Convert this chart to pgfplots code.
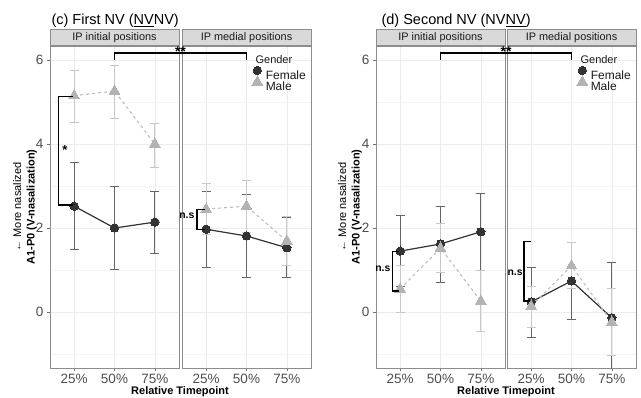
\documentclass[border=0pt]{standalone}
\usepackage{fontspec}
\setmainfont{Liberation Sans}
\usepackage{pgfplots}
\usepackage{pgfplotstable}
\pgfplotsset{compat=1.18}
\usetikzlibrary{calc}

\definecolor{colF}{HTML}{333333}
\definecolor{errF}{HTML}{666666}
\definecolor{colM}{HTML}{B3B3B3}
\definecolor{lineM}{HTML}{BDBDBD}
\definecolor{errM}{HTML}{C8C8C8}
\definecolor{stripfill}{HTML}{D9D9D9}
\definecolor{border}{HTML}{8C8C8C}
\definecolor{gridmaj}{HTML}{EBEBEB}
\definecolor{gridmin}{HTML}{F5F5F5}
\definecolor{ticktext}{HTML}{4D4D4D}

% x: 1=25%, 2=50%, 3=75%
\pgfplotstableread{
x y lo hi
1 2.52 1.50 3.55
2 2.00 1.02 3.00
3 2.14 1.40 2.88
}\cLF
\pgfplotstableread{
x y lo hi
1 5.15 4.52 5.74
2 5.26 4.62 5.88
3 4.00 3.45 4.50
}\cLM
\pgfplotstableread{
x y lo hi
1 1.97 1.07 2.88
2 1.81 0.83 2.79
3 1.53 0.83 2.25
}\cRF
\pgfplotstableread{
x y lo hi
1 2.45 1.85 3.07
2 2.52 1.90 3.14
3 1.69 1.10 2.27
}\cRM
\pgfplotstableread{
x y lo hi
1 1.45 0.62 2.29
2 1.62 0.70 2.52
3 1.91 1.00 2.83
}\dLF
\pgfplotstableread{
x y lo hi
1 0.55 -0.02 1.12
2 1.52 0.93 2.10
3 0.26 -0.46 0.98
}\dLM
\pgfplotstableread{
x y lo hi
1 0.24 -0.60 1.07
2 0.74 -0.18 1.66
3 -0.14 -1.47 1.19
}\dRF
\pgfplotstableread{
x y lo hi
1 0.14 -0.36 0.62
2 1.10 0.55 1.66
3 -0.24 -1.03 0.56
}\dRM

\pgfplotsset{
  facet/.style={
    scale only axis, width=129pt, height=322pt, anchor=south west,
    xmin=0.4, xmax=3.6, ymin=-1.333, ymax=6.333,
    xtick={1,2,3}, xticklabels={25\%,50\%,75\%},
    ytick={0,2,4,6}, minor ytick={-1,1,3,5},
    grid=both,
    major grid style={draw=gridmaj, line width=0.6pt},
    minor grid style={draw=gridmin, line width=0.4pt},
    axis line style={draw=border, line width=0.6pt},
    tick align=outside, major tick length=3pt, minor tick length=0pt,
    tick pos=left,
    tick style={draw=black!55, line width=0.5pt},
    ticklabel style={font=\fontsize{13.5}{14}\selectfont, text=ticktext},
    /pgf/number format/assume math mode=true,
    clip mode=individual,
  },
  rightfacet/.style={yticklabels={}, ytick style={draw=none}},
}

\newcommand{\errplot}[2]{%
  \addplot[forget plot, only marks, mark=none, color=#2,
   error bars/.cd, y dir=both, y explicit, error mark=none,
   error bar style={color=#2, line width=0.9pt, solid}]
   table[x=x, y=y, y error plus expr=\thisrow{hi}-\thisrow{y}, y error minus expr=\thisrow{y}-\thisrow{lo}] {#1};
  \addplot[forget plot, only marks, mark=-, mark size=4.5pt, mark options={draw=#2, line width=0.9pt, solid}] table[x=x, y=lo] {#1};
  \addplot[forget plot, only marks, mark=-, mark size=4.5pt, mark options={draw=#2, line width=0.9pt, solid}] table[x=x, y=hi] {#1};}
\newcommand{\femline}[1]{\addplot[forget plot, draw=colF, solid, line width=1.2pt, mark=none] table[x=x,y=y]{#1};}
\newcommand{\maleline}[1]{\addplot[forget plot, draw=lineM, dash pattern=on 3pt off 3pt, line width=1.1pt, mark=none] table[x=x,y=y]{#1};}
\newcommand{\fempts}[1]{\addplot[forget plot, only marks, mark=*, mark size=4.2pt, mark options={fill=colF, draw=colF, line width=0pt}] table[x=x,y=y]{#1};}
\newcommand{\malepts}[1]{\addplot[forget plot, only marks, mark=triangle*, mark size=6.2pt, mark options={fill=colM, draw=colM, line width=0pt}] table[x=x,y=y]{#1};}
\newcommand{\panel}[2]{\errplot{#1}{errF}\errplot{#2}{errM}\femline{#1}\maleline{#2}\fempts{#1}\malepts{#2}}
\newcommand{\strip}[1]{\node[anchor=south, fill=stripfill, draw=border, line width=0.6pt, minimum width=129pt, minimum height=16pt, inner sep=0pt, font=\fontsize{10.9}{11}\selectfont, text=black!90] at (axis description cs:0.5,1) {#1};}
\newcommand{\gendlegend}{%
  \node[anchor=base west, font=\fontsize{11}{12}\selectfont, text=black!90] at (axis description cs:0.543,0.9457) {Gender};
  \addlegendimage{mark=*, mark size=4.2pt, mark options={fill=colF, draw=colF, line width=0pt}}
  \addlegendentry{Female}
  \addlegendimage{mark=triangle*, mark size=6.2pt, mark options={fill=colM, draw=colM, line width=0pt}}
  \addlegendentry{Male}}
\pgfplotsset{
  genderlegend/.style={
    legend style={at={(axis description cs:0.55,0.924)}, anchor=north west, draw=none, fill=none,
      inner sep=0pt, outer sep=0pt, font=\fontsize{12}{12}\selectfont, text=black!90,
      row sep=2.9pt, nodes={inner sep=0pt, text height=8.6pt, text depth=0pt},
      /tikz/every odd column/.append style={column sep=4pt}},
    legend cell align=left,
    legend image code/.code={\path (0pt,0pt) (8.4pt,0pt); \draw[##1, overlay] plot coordinates {(4.2pt,4.3pt)};},
  }
}

\begin{document}
\begin{tikzpicture}
\useasboundingbox (0,0) rectangle (641pt,397pt);

% ---------------- panel (c) ----------------
\begin{axis}[facet, at={(50pt,29pt)}]
  \panel{\cLF}{\cLM}
  \strip{IP initial positions}
  \draw[black, line width=1.2pt] (axis cs:0.97,5.14) -- (axis cs:0.62,5.14) -- (axis cs:0.62,2.55) -- (axis cs:0.97,2.55);
  \node[anchor=base, font=\bfseries\fontsize{13}{13}\selectfont] at (axis cs:0.77,3.76) {*};
  \coordinate (cLss) at (axis cs:2,6.0);
\end{axis}
\begin{axis}[facet, rightfacet, genderlegend, at={(182pt,29pt)}]
  \panel{\cRF}{\cRM}
  \strip{IP medial positions}
  \draw[black, line width=1.2pt] (axis cs:0.97,2.45) -- (axis cs:0.77,2.45) -- (axis cs:0.77,1.97) -- (axis cs:0.97,1.97);
  \node[anchor=center, font=\bfseries\fontsize{10.4}{11}\selectfont] at (axis cs:0.52,2.28) {n.s};
  \coordinate (cRss) at (axis cs:2,6.0);
  \gendlegend
\end{axis}
\draw[black, line width=1.2pt] (cLss) -- ++(0,7pt) -| (cRss);
\node[anchor=base, font=\bfseries\fontsize{14}{14}\selectfont] at ($($(cLss)!0.5!(cRss)$)+(0,3pt)$) {**};

% ---------------- panel (d) ----------------
\begin{axis}[facet, at={(376pt,29pt)}]
  \panel{\dLF}{\dLM}
  \strip{IP initial positions}
  \draw[black, line width=1.2pt] (axis cs:0.97,1.45) -- (axis cs:0.80,1.45) -- (axis cs:0.80,0.50) -- (axis cs:0.97,0.50);
  \node[anchor=center, font=\bfseries\fontsize{10.4}{11}\selectfont] at (axis cs:0.57,1.02) {n.s};
  \coordinate (dLss) at (axis cs:2,6.0);
\end{axis}
\begin{axis}[facet, rightfacet, genderlegend, at={(507pt,29pt)}]
  \panel{\dRF}{\dRM}
  \strip{IP medial positions}
  \draw[black, line width=1.2pt] (axis cs:1.0,1.67) -- (axis cs:0.82,1.67) -- (axis cs:0.82,0.26) -- (axis cs:0.97,0.26);
  \node[anchor=center, font=\bfseries\fontsize{10.4}{11}\selectfont] at (axis cs:0.60,0.93) {n.s};
  \coordinate (dRss) at (axis cs:2,6.0);
  \gendlegend
\end{axis}
\draw[black, line width=1.2pt] (dLss) -- ++(0,7pt) -| (dRss);
\node[anchor=base, font=\bfseries\fontsize{14}{14}\selectfont] at ($($(dLss)!0.5!(dRss)$)+(0,3pt)$) {**};

% ---------------- titles and labels ----------------
\node[anchor=base west, font=\fontsize{14.5}{15}\selectfont] at (48pt,372.5pt) {(c) First NV (\underline{NV}NV)};
\node[anchor=base west, font=\fontsize{14.5}{15}\selectfont] at (378pt,372.5pt) {(d) Second NV (NV\underline{NV})};
\node[rotate=90, align=center, font=\fontsize{11}{13.5}\selectfont] at (25pt,190pt) {← More nasalized\\\textbf{A1-P0 (V-nasalization)}};
\node[rotate=90, align=center, font=\fontsize{11}{13.5}\selectfont] at (350pt,190pt) {← More nasalized\\\textbf{A1-P0 (V-nasalization)}};
\node[anchor=base, font=\bfseries\fontsize{11}{12}\selectfont] at (180pt,2.5pt) {Relative Timepoint};
\node[anchor=base, font=\bfseries\fontsize{11}{12}\selectfont] at (506pt,2.5pt) {Relative Timepoint};
\end{tikzpicture}
\end{document}
